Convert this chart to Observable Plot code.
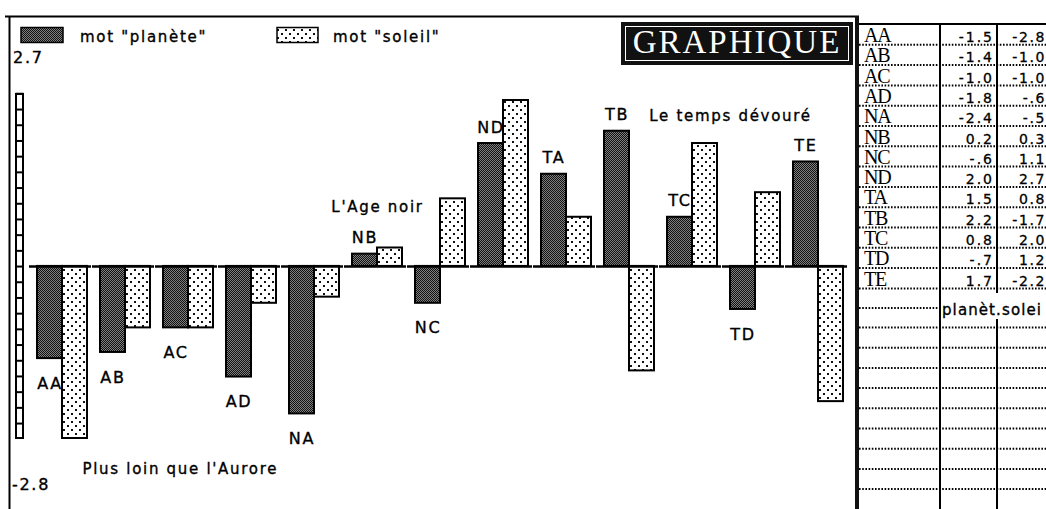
<!DOCTYPE html>
<html><head><meta charset="utf-8">
<script src="https://cdn.jsdelivr.net/npm/d3@7"></script>
<script src="https://cdn.jsdelivr.net/npm/@observablehq/plot@0.6"></script>
<style>
html,body{margin:0;padding:0;background:#fff;}
#root{position:relative;width:1046px;height:509px;overflow:hidden;background:#fff;}
#chart{position:absolute;left:0;top:0;}
#overlay{position:absolute;left:0;top:0;pointer-events:none;}
</style></head>
<body><div id="root"><div id="chart"></div></div>
<script>
// ---- data ----
const keys = ["AA","AB","AC","AD","NA","NB","NC","ND","TA","TB","TC","TD","TE"];
const planete = [-1.5,-1.4,-1.0,-1.8,-2.4,0.2,-0.6,2.0,1.5,2.2,0.8,-0.7,1.7];
const soleil  = [-2.8,-1.0,-1.0,-0.6,-0.5,0.3,1.1,2.7,0.8,-1.7,2.0,1.2,-2.2];
const seriesNames = ["planète","soleil"];
const legendLabels = ['mot "planète"', 'mot "soleil"'];
const yMax = 2.7, yMin = -2.8;
const title = "GRAPHIQUE";
const annotations = ["L'Age noir", "Le temps dévouré", "Plus loin que l'Aurore"];
const tableFooter = "planèt.solei";

const planeteData = keys.map((k,i)=>({key:k, series:"planète", value:planete[i]}));
const soleilData  = keys.map((k,i)=>({key:k, series:"soleil", value:soleil[i]}));

const FONT = '"DejaVu Sans", sans-serif';
const txtStyle = {fill:"#000", stroke:"#000", strokeWidth:0.35};

const plot = Plot.plot({
  width: 858, height: 509,
  marginLeft: 35, marginRight: 14, marginTop: 100, marginBottom: 71,
  style: {fontFamily: FONT, fontSize: "15px", letterSpacing: "1.7px", background: "transparent", overflow: "visible"},
  fx: {domain: keys, paddingInner: 0.21, paddingOuter: 0, axis: null, label: null},
  x: {domain: seriesNames, padding: 0, axis: null},
  y: {domain: [yMin, yMax], axis: null},
  marks: [
    Plot.barY(planeteData, {fx:"key", x:"series", y:"value", fill:"url(#pDark)", stroke:"#000", strokeWidth:2, insetLeft:0, insetRight:0}),
    Plot.barY(soleilData,  {fx:"key", x:"series", y:"value", fill:"url(#pLight)", stroke:"#000", strokeWidth:2, insetLeft:0, insetRight:0}),
    Plot.ruleY(keys, {fx: d=>d, y: ()=>0, stroke:"#000", strokeWidth:2.5, insetLeft:-8, insetRight:-4}),
    Plot.text(planeteData.filter(d=>d.value>0), {fx:"key", x:"series", y:"value", text:"key", dy:-16, fontSize:16, ...txtStyle}),
    Plot.text(planeteData.filter(d=>d.value<0), {fx:"key", x:"series", y:"value", text:"key", dy:25, fontSize:16, ...txtStyle}),
    Plot.text([annotations[0]], {fx: ()=>"NB", y: ()=>0.96, text: d=>d, ...txtStyle}),
    Plot.text([annotations[1]], {fx: ()=>"TD", y: ()=>2.44, text: d=>d, dx:-25, ...txtStyle}),
    Plot.text([annotations[2]], {fx: ()=>"AA", y: ()=>-3.3, text: d=>d, frameAnchor:"left", textAnchor:"start", dx:45, ...txtStyle})
  ]
});
document.getElementById("chart").appendChild(plot);

d3.select(plot).insert("defs", ":first-child").html(`
  <pattern id="pDark" width="2" height="2" patternUnits="userSpaceOnUse">
    <rect width="2" height="2" fill="#808080"/>
    <rect width="1" height="1" fill="#111"/>
    <rect x="1" y="1" width="1" height="1" fill="#111"/>
  </pattern>
  <pattern id="pLight" width="8" height="8" patternUnits="userSpaceOnUse">
    <rect width="8" height="8" fill="#fff"/>
    <rect x="1" y="1" width="2" height="2" fill="#111"/>
    <rect x="5" y="5" width="2" height="2" fill="#111"/>
  </pattern>`);

const yS = plot.scale("y");

// ---- overlay (frame, legend, title, ruler, table) ----
const ov = d3.select("#root").append("svg").attr("id","overlay").attr("width",1046).attr("height",509);
function line(x1,y1,x2,y2,w,dash){ const l = ov.append("line").attr("x1",x1).attr("y1",y1).attr("x2",x2).attr("y2",y2).attr("stroke","#000").attr("stroke-width",w); if(dash) l.attr("stroke-dasharray",dash); return l; }
function text(x,y,s,o={}){
  return ov.append("text").attr("x",x).attr("y",y).text(s)
    .attr("font-family",o.family||FONT).attr("font-size",o.size||15)
    .attr("letter-spacing",o.ls!=null?o.ls:1.7).attr("text-anchor",o.anchor||"start")
    .attr("fill",o.fill||"#000").attr("stroke",o.stroke===undefined?"#000":o.stroke).attr("stroke-width",o.sw!=null?o.sw:0.35);
}
// frame
line(5,16.5,859,16.5,2);
line(9.5,16,9.5,509,2);
ov.append("rect").attr("x",855).attr("y",16).attr("width",4).attr("height",493).attr("fill","#111");

// legend
ov.append("rect").attr("x",21).attr("y",27.5).attr("width",42).attr("height",15).attr("fill","url(#pDark)").attr("stroke","#000").attr("stroke-width",1.5);
text(80,42,legendLabels[0]);
ov.append("rect").attr("x",277).attr("y",27.5).attr("width",41).attr("height",15).attr("fill","url(#pLight)").attr("stroke","#000").attr("stroke-width",1.5);
text(333,42,legendLabels[1]);

// extreme labels
text(13,63,String(yMax),{size:16});
text(12,490,String(yMin),{size:16});

// ruler
const rTop = yS.apply(2.8), rBot = yS.apply(-2.8);
ov.append("rect").attr("x",16).attr("y",rTop).attr("width",7).attr("height",rBot-rTop).attr("fill","#fff").attr("stroke","#000").attr("stroke-width",2);
d3.range(rTop, rBot, 15.7).forEach(y=>line(16,y,23,y,2));

// title box
ov.append("rect").attr("x",621).attr("y",22).attr("width",232).attr("height",43).attr("fill","#111");
ov.append("rect").attr("x",625.5).attr("y",26.5).attr("width",223).attr("height",34).attr("fill","none").attr("stroke","#fff").attr("stroke-width",1);
text(737,53,title,{family:'"Liberation Serif", serif', size:33, ls:2, anchor:"middle", fill:"#fff", stroke:"none"});

// table
const tx0 = 859, c1 = 940, c2 = 997, rowTop = 25, rowH = 20.3;
line(tx0,24,1046,24,2);
line(c1,24,c1,509,2);
line(c2,24,c2,293,2);
line(c2,319,c2,509,2);
function fmt(v){ return (v<0 && v>-1) ? "-" + v.toFixed(1).replace("-0","") : v.toFixed(1); }
keys.forEach((k,i)=>{
  const base = rowTop + i*rowH + 17;
  text(864, base, k, {family:'"Liberation Serif", serif', size:20, ls:-1.2, stroke:"none", sw:0});
  text(994, base, fmt(planete[i]), {size:14, ls:2, anchor:"end", sw:0.3});
  text(1046, base, fmt(soleil[i]), {size:14, ls:1.6, anchor:"end", sw:0.3});
  line(tx0, rowTop+(i+1)*rowH - 0.5, 1046, rowTop+(i+1)*rowH - 0.5, 2, "1.6 1.6");
});
// footer row
line(tx0, 308, c1, 308, 2, "1.6 1.6");
text(942, 315, tableFooter, {size:15, ls:1.1});
d3.range(327.5, 509, 20.2).forEach(y=>line(tx0, y, 1046, y, 2, "1.6 1.6"));
</script></body></html>
